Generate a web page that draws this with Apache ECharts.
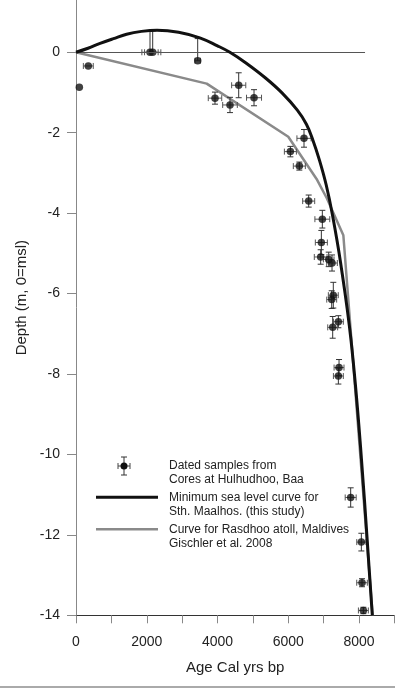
<!DOCTYPE html>
<html>
<head>
<meta charset="utf-8">
<script src="https://cdn.jsdelivr.net/npm/echarts@6/dist/echarts.min.js"></script>
<style>html,body{margin:0;padding:0;background:#fff}#c{width:395px;height:689px}</style>
</head>
<body>
<div id="c"></div>
<script>
// Minimum sea level curve for Sth. Maalhos (this study)
const blackAge   = [0, 340, 680, 1060, 1430, 1850, 2290, 2900, 3500, 4000, 4350, 4794, 5357, 5823, 6256, 6513, 6694, 6881, 7073, 7251, 7477, 7774, 8042, 8376];
const blackDepth = [0, 0.1, 0.22, 0.34, 0.45, 0.52, 0.55, 0.5, 0.36, 0.16, 0, -0.26, -0.64, -1.01, -1.44, -1.79, -2.18, -2.68, -3.30, -4.05, -5.22, -7.16, -9.80, -14];
// Curve for Rasdhoo atoll, Maldives (Gischler et al. 2008)
const grayAge   = [0, 3694, 6000, 6800, 7090, 7557, 8385];
const grayDepth = [0, -0.78, -2.1, -3.15, -3.63, -4.55, -14];
// Dated samples from cores at Hulhudhoo, Baa
const sampleAge   = [94, 348, 2092, 2168, 3440, 3929, 4353, 4599, 5032, 6445, 6060, 6313, 6577, 6963, 6935, 6916, 7143, 7237, 7273, 7228, 7416, 7256, 7435, 7416, 7764, 8066, 8085, 8123];
const sampleDepth = [-0.87, -0.34, 0, 0, -0.21, -1.14, -1.31, -0.82, -1.13, -2.14, -2.47, -2.83, -3.70, -4.15, -4.73, -5.09, -5.15, -5.24, -6.04, -6.15, -6.70, -6.84, -7.84, -8.05, -11.07, -12.18, -13.19, -13.88];
const sampleAgeErr = [0, 140, 230, 230, 75, 190, 207, 200, 212, 200, 170, 170, 170, 210, 170, 180, 150, 150, 140, 140, 140, 140, 140, 140, 155, 130, 150, 140];
const sampleDepthErrUp   = [0, 0, 0.53, 0.53, 0.55, 0.15, 0.19, 0.31, 0.2, 0.22, 0.13, 0.1, 0.15, 0.22, 0.3, 0.18, 0.18, 0.2, 0.32, 0.22, 0.15, 0.27, 0.2, 0.2, 0.24, 0.22, 0.1, 0.08];
const sampleDepthErrDown = [0, 0, 0, 0, 0, 0.15, 0.19, 0.31, 0.2, 0.22, 0.13, 0.1, 0.15, 0.22, 0.3, 0.18, 0.18, 0.2, 0.32, 0.22, 0.15, 0.27, 0.2, 0.2, 0.24, 0.22, 0.1, 0.08];
const zeroLineEnd = 8170;
const xLabelsShown = [0, 2000, 4000, 6000, 8000];
const legendNames = ['Dated samples from\nCores at Hulhudhoo, Baa', 'Minimum sea level curve for\nSth. Maalhos. (this study)', 'Curve for Rasdhoo atoll, Maldives\nGischler et al. 2008'];

const blackData = blackAge.map((a, i) => [a, blackDepth[i]]);
const grayData = grayAge.map((a, i) => [a, grayDepth[i]]);
const sampleData = sampleAge.map((a, i) => [a, sampleDepth[i]]);
const errData = sampleAge.map((a, i) => [a, sampleDepth[i], sampleAgeErr[i], sampleDepthErrUp[i], sampleDepthErrDown[i]]);

const chart = echarts.init(document.getElementById('c'), null, {renderer: 'canvas'});
const FONT = 'Liberation Sans, Arial, sans-serif';

function errRender(params, api) {
  const x = api.value(0), y = api.value(1), xe = api.value(2), up = api.value(3), dn = api.value(4);
  const children = [];
  const c = 3;
  if (xe > 0) {
    const p1 = api.coord([x - xe, y]), p2 = api.coord([x + xe, y]);
    const st = {stroke: '#555', lineWidth: 1};
    children.push({type: 'line', shape: {x1: p1[0], y1: p1[1], x2: p2[0], y2: p2[1]}, style: st});
    children.push({type: 'line', shape: {x1: p1[0], y1: p1[1] - c, x2: p1[0], y2: p1[1] + c}, style: st});
    children.push({type: 'line', shape: {x1: p2[0], y1: p2[1] - c, x2: p2[0], y2: p2[1] + c}, style: st});
  }
  if (up > 0 || dn > 0) {
    const p1 = api.coord([x, y + up]), p2 = api.coord([x, y - dn]);
    const st = {stroke: '#333', lineWidth: 1};
    children.push({type: 'line', shape: {x1: p1[0], y1: p1[1], x2: p2[0], y2: p2[1]}, style: st});
    if (up > 0) children.push({type: 'line', shape: {x1: p1[0] - c, y1: p1[1], x2: p1[0] + c, y2: p1[1]}, style: st});
    if (dn > 0) children.push({type: 'line', shape: {x1: p2[0] - c, y1: p2[1], x2: p2[0] + c, y2: p2[1]}, style: st});
  }
  return {type: 'group', children};
}

const lx = 124, ly = 466;
const option = {
  animation: false,
  backgroundColor: '#fff',
  textStyle: {fontFamily: FONT},
  grid: {left: 76, right: 0.6, top: 0, bottom: 73.7, containLabel: false, outerBoundsMode: 'none'},
  xAxis: {
    type: 'value', min: 0, max: 9000, interval: 1000,
    axisLine: {show: true, onZero: false, lineStyle: {color: '#333', width: 1}},
    axisTick: {show: true, length: 8, lineStyle: {color: '#888'}},
    splitLine: {show: false},
    axisLabel: {fontSize: 14, color: '#222', margin: 20, fontFamily: FONT,
      formatter: v => xLabelsShown.includes(v) ? String(v) : ''},
    name: 'Age Cal yrs bp', nameLocation: 'middle', nameGap: 45,
    nameTextStyle: {fontSize: 15, color: '#222', fontFamily: FONT}
  },
  yAxis: {
    type: 'value', min: -14, max: 1.3, interval: 2,
    axisLine: {show: true, onZero: false, lineStyle: {color: '#888', width: 1}},
    axisTick: {show: true, length: 9, lineStyle: {color: '#888'}},
    splitLine: {show: false},
    axisLabel: {fontSize: 14, color: '#222', margin: 16, fontFamily: FONT, showMaxLabel: false,
      formatter: v => (Number.isInteger(v) && v % 2 === 0) ? String(v) : ''},
    name: 'Depth (m, 0=msl)', nameLocation: 'middle', nameGap: 44, nameRotate: 90,
    nameTextStyle: {fontSize: 15, color: '#222', fontFamily: FONT, padding: [0, 0, 0, 20]}
  },
  series: [
    {
      type: 'line', name: 'Gischler', data: grayData, showSymbol: false, smooth: false,
      lineStyle: {color: '#8a8a8a', width: 2.5}, z: 2,
      markLine: {silent: true, symbol: 'none', label: {show: false},
        lineStyle: {color: '#555', width: 1, type: 'solid'},
        data: [[{coord: [0, 0]}, {coord: [zeroLineEnd, 0]}]]}
    },
    {
      type: 'custom', name: 'errors', data: errData, renderItem: errRender, z: 3,
      encode: {x: 0, y: 1}, clip: false
    },
    {
      type: 'scatter', name: 'samples', data: sampleData, symbol: 'circle', symbolSize: 7.5,
      itemStyle: {color: '#111'}, z: 4
    },
    {
      type: 'line', name: 'Minimum', data: blackData, showSymbol: false, smooth: 0.4,
      lineStyle: {color: '#111', width: 3}, z: 5
    }
  ],
  graphic: [
    {type: 'rect', shape: {x: 0, y: 686, width: 395, height: 2}, style: {fill: '#aaa'}},
    {type: 'group', children: [
      {type: 'line', shape: {x1: lx - 6, y1: ly, x2: lx + 6, y2: ly}, style: {stroke: '#444', lineWidth: 1}},
      {type: 'line', shape: {x1: lx - 6, y1: ly - 3, x2: lx - 6, y2: ly + 3}, style: {stroke: '#444', lineWidth: 1}},
      {type: 'line', shape: {x1: lx + 6, y1: ly - 3, x2: lx + 6, y2: ly + 3}, style: {stroke: '#444', lineWidth: 1}},
      {type: 'line', shape: {x1: lx, y1: ly - 9, x2: lx, y2: ly + 9}, style: {stroke: '#333', lineWidth: 1}},
      {type: 'line', shape: {x1: lx - 3, y1: ly - 9, x2: lx + 3, y2: ly - 9}, style: {stroke: '#333', lineWidth: 1}},
      {type: 'line', shape: {x1: lx - 3, y1: ly + 9, x2: lx + 3, y2: ly + 9}, style: {stroke: '#333', lineWidth: 1}},
      {type: 'circle', shape: {cx: lx, cy: ly, r: 3.5}, style: {fill: '#111'}},
      {type: 'line', shape: {x1: 96, y1: 497.3, x2: 158, y2: 497.3}, style: {stroke: '#111', lineWidth: 3}},
      {type: 'line', shape: {x1: 96, y1: 529.3, x2: 158, y2: 529.3}, style: {stroke: '#8a8a8a', lineWidth: 2.5}},
      {type: 'text', x: 169, y: 459, style: {text: legendNames[0], fontSize: 12, lineHeight: 13.5, fill: '#222', fontFamily: FONT, verticalAlign: 'top'}},
      {type: 'text', x: 169, y: 491, style: {text: legendNames[1], fontSize: 12, lineHeight: 13.5, fill: '#222', fontFamily: FONT, verticalAlign: 'top'}},
      {type: 'text', x: 169, y: 523.3, style: {text: legendNames[2], fontSize: 12, lineHeight: 13.5, fill: '#222', fontFamily: FONT, verticalAlign: 'top'}}
    ]}
  ]
};
chart.setOption(option);
</script>
</body>
</html>
